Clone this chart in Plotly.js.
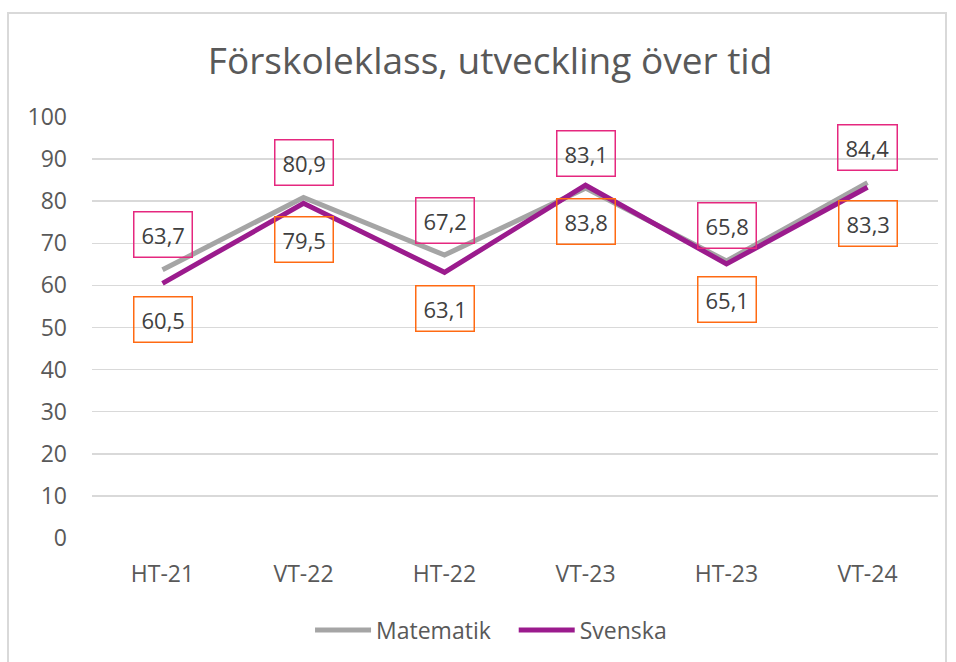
<!DOCTYPE html>
<html><head><meta charset="utf-8">
<script src="https://cdn.plot.ly/plotly-3.0.1.min.js"></script>
<style>
html,body{margin:0;padding:0;background:#fff;}
#frame{position:absolute;left:7px;top:12px;width:940px;height:660px;border:2px solid #d9d9d9;box-sizing:border-box;}
#chart{position:absolute;left:0;top:0;width:936px;height:656px;}
</style></head>
<body><div id="frame"><div id="chart"></div></div>
<script>
const categories = ["HT-21","VT-22","HT-22","VT-23","HT-23","VT-24"];
const matematik = [63.7, 80.9, 67.2, 83.1, 65.8, 84.4];
const svenska = [60.5, 79.5, 63.1, 83.8, 65.1, 83.3];
const seriesNames = ["Matematik","Svenska"];
const fmt = v => v.toFixed(1).replace(".", ",");
const font = "Open Sans, Noto Sans, sans-serif";
const pad = "\u00a0\u00a0\u00a0";
const traces = [
  {x: categories, y: matematik, name: seriesNames[0] + pad, type: "scatter", mode: "lines",
   line: {color: "#a5a5a5", width: 5}},
  {x: categories, y: svenska, name: seriesNames[1], type: "scatter", mode: "lines",
   line: {color: "#9b1b8d", width: 5}}
];
const annotations = [];
categories.forEach((c, i) => {
  annotations.push({x: c, y: matematik[i], xref: "x", yref: "y", text: fmt(matematik[i]),
    showarrow: false, yshift: 35, font: {family: font, size: 22, color: "#404040"},
    bordercolor: "#e5287f", borderwidth: 1.5, borderpad: 7, bgcolor: "rgba(255,255,255,0)"});
  annotations.push({x: c, y: svenska[i], xref: "x", yref: "y", text: fmt(svenska[i]),
    showarrow: false, yshift: -36, font: {family: font, size: 22, color: "#404040"},
    bordercolor: "#ff6a13", borderwidth: 1.5, borderpad: 7, bgcolor: "rgba(255,255,255,0)"});
});
const layout = {
  width: 936, height: 656,
  margin: {l: 83, r: 7, t: 103, b: 132},
  paper_bgcolor: "#fff", plot_bgcolor: "#fff",
  font: {family: font, color: "#595959"},
  title: {text: "Förskoleklass, utveckling över tid", font: {family: font, size: 37, color: "#595959"},
          xref: "container", x: 0.514, xanchor: "center", y: 1 - 47/656, yanchor: "middle"},
  xaxis: {type: "category", range: [-0.5, 5.5], showgrid: false, zeroline: false, showline: false,
          ticks: "", tickfont: {size: 23, color: "#595959"}, ticklabelstandoff: 20, fixedrange: true},
  yaxis: {range: [0, 100], dtick: 10, tick0: 0, showgrid: true, gridcolor: "#d9d9d9", gridwidth: 1.5,
          zeroline: false, showline: false, ticks: "", tickfont: {size: 23, color: "#595959"},
          ticklabelstandoff: 24, fixedrange: true},
  showlegend: true,
  legend: {orientation: "h", xref: "container", x: 0.515, xanchor: "center", y: 1 - 616/656, yref: "container", yanchor: "middle",
           font: {size: 23, color: "#595959"}, itemwidth: 56, traceorder: "normal"},
  annotations: annotations
};
Plotly.newPlot("chart", traces, layout, {displayModeBar: false, staticPlot: true});
</script></body></html>
